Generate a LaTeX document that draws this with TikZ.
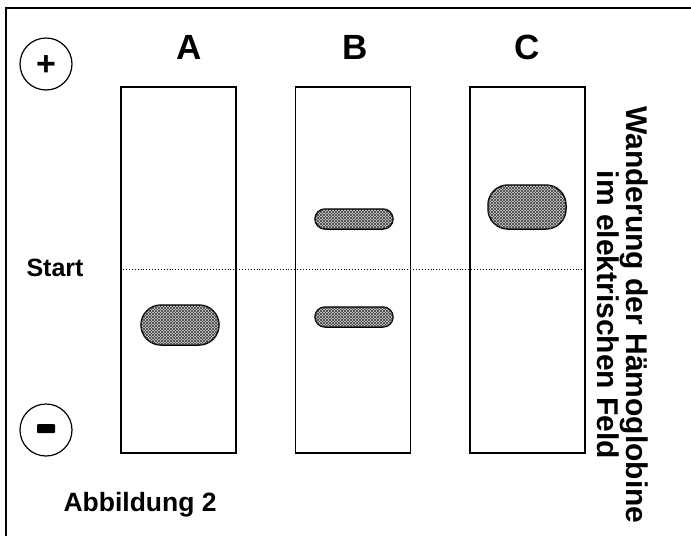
\documentclass[tikz,border=0pt]{standalone}
\usepackage{fontspec}
\setmainfont{Liberation Sans}
\usetikzlibrary{patterns}
\begin{document}
\begin{tikzpicture}[x=1pt,y=-1pt,
  lane/.style={draw,line width=1.6pt,minimum width=115pt,minimum height=366pt,inner sep=0pt},
  lbl/.style={font=\bfseries\fontsize{35}{37}\selectfont},
  txt/.style={font=\bfseries\fontsize{25}{27}\selectfont},
  pole/.style={draw,circle,line width=1.2pt,minimum size=52pt,inner sep=0pt},
  band/.style={draw,line width=1.5pt,rounded corners=#1,fill=gray!35,
    postaction={pattern=north east lines,pattern color=black!75},
    postaction={pattern=north west lines,pattern color=black!75}},
]
\useasboundingbox (0,0) rectangle (691,536);
% frame (top and left edges)
\draw[line width=1.4pt] (6,536) -- (6,8) -- (691,8);

% lanes
\node[lane] (laneA) at (178.5,270) {};
\node[lane] (laneB) at (353,270) {};
\node[lane] (laneC) at (527.5,270) {};

% lane labels
\node[lbl] (labA) at (189.5,47) {A};
\node[lbl] (labB) at (355,47) {B};
\node[lbl] (labC) at (527,47) {C};

% poles
\node[pole] (plus) at (46,64) {};
\node[font=\bfseries\fontsize{34}{36}\selectfont] (plussign) at ([yshift=-2pt]plus.center) {+};
\node[pole] (minus) at (46,430) {};
\fill[rounded corners=1pt] ([xshift=-9pt,yshift=-3pt]minus.center) rectangle ([xshift=9pt,yshift=6pt]minus.center);

% start line
\node[txt] (start) at (55,268) {Start};
\coordinate (sl) at (laneA.west |- 0,269);
\coordinate (sr) at (laneC.east |- 0,269);
\draw[dotted,line width=0.9pt] (sl) -- (sr);

% bands
\draw[band=20pt] (141,305) rectangle (219,345);
\draw[band=10pt] (315,209) rectangle (393,229);
\draw[band=10pt] (315,307) rectangle (393,327);
\draw[band=20pt] (488,185) rectangle (566,229);

% side caption
\node[rotate=-90,align=center,font=\bfseries\fontsize{30}{26}\selectfont] (cap) at (623,315)
  {Wanderung der Hämoglobine\\im elektrischen Feld};

\node[txt,font=\bfseries\fontsize{26.5}{28}\selectfont,anchor=west] (fig) at (60,505) {Abbildung 2};
\end{tikzpicture}
\end{document}
